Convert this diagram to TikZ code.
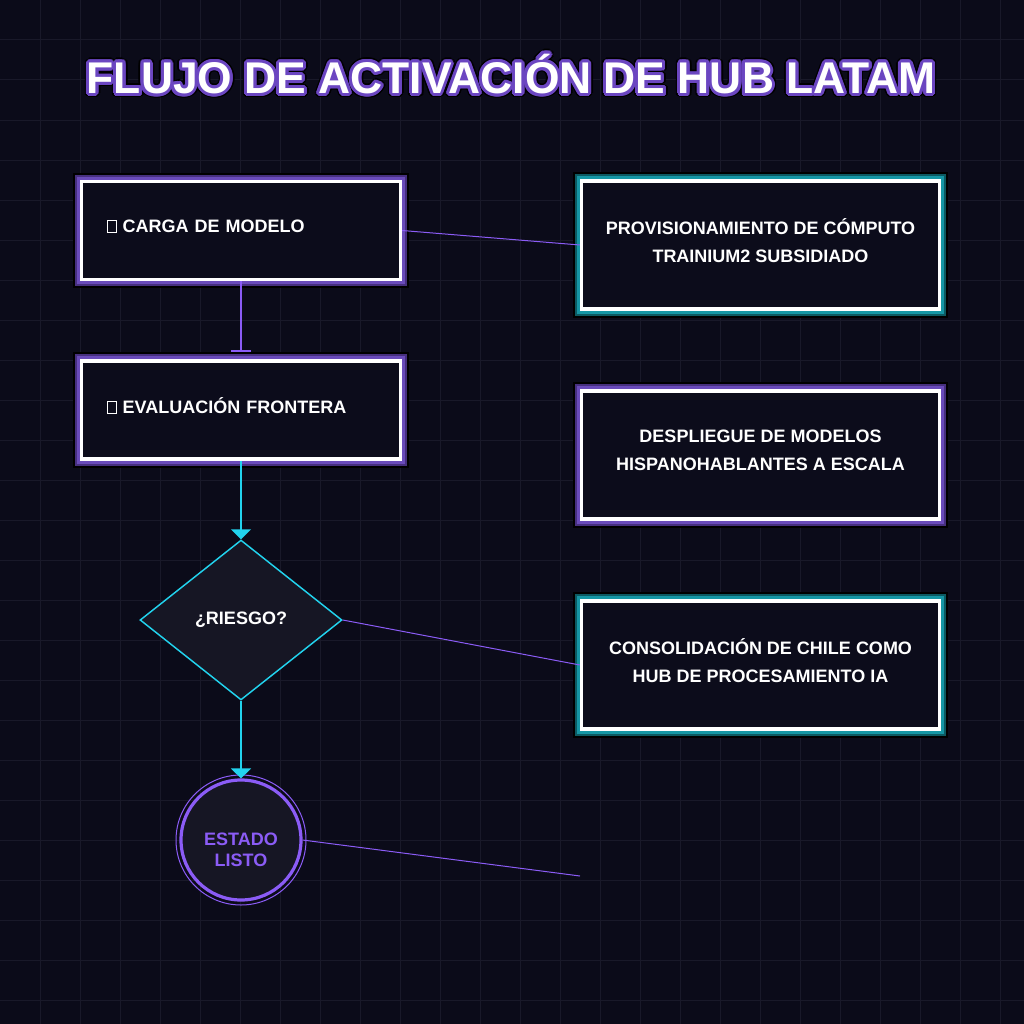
\documentclass[tikz,border=0pt]{standalone}
\usepackage{fontspec}
\setmainfont{Liberation Sans}
\usetikzlibrary{arrows.meta,shapes.geometric,positioning}

\definecolor{hubBg}{HTML}{0B0B19}
\definecolor{hubGrid}{HTML}{191929}
\definecolor{hubFill}{HTML}{0C0C1B}
\definecolor{hubShape}{HTML}{161624}
\definecolor{hubViolet}{HTML}{8B5CF6}
\definecolor{hubVioletMid}{HTML}{6A4BBA}
\definecolor{hubVioletDark}{HTML}{47307F}
\definecolor{hubTealMid}{HTML}{1596A4}
\definecolor{hubTealDark}{HTML}{0C5A62}
\definecolor{hubCyan}{HTML}{22D3EE}
\definecolor{hubGlow}{HTML}{6B46C1}

% caja vacia del icono que falta
\newcommand{\tofubox}{{\setlength{\fboxsep}{0pt}\setlength{\fboxrule}{0.6pt}\fbox{\rule{0pt}{8.5pt}\hspace{6pt}}}}
% baja un poco la linea base del bloque
\newcommand{\lift}{\rule[-7pt]{0pt}{0pt}}

\tikzset{
  hubBox/.style={rectangle, draw=white, line width=2.5pt, fill=hubFill, text=white,
    font=\bfseries\fontsize{13.5}{21}\selectfont, inner sep=0pt,
    preaction={draw=black, line width=13.4pt},
    preaction={draw=#1Dark, line width=10.4pt},
    preaction={draw=#1Mid, line width=7.4pt}},
  hubStep/.style={hubBox=hubViolet, minimum width=239.25pt, minimum height=73.5pt,
    text width=201pt, align=left},
  hubGoal/.style={hubBox=#1, minimum width=268.5pt, minimum height=96pt, align=center},
  hubCheck/.style={diamond, draw=hubCyan, line width=1.1pt, fill=hubShape, text=white,
    font=\bfseries\fontsize{13.5}{16}\selectfont, minimum width=151.5pt, minimum height=120pt, inner sep=0pt},
  hubReady/.style={circle, draw=hubViolet, line width=2.4pt, fill=hubShape,
    minimum size=90pt, inner sep=0pt},
  hubReadyText/.style={text=hubViolet, font=\bfseries\fontsize{13.5}{15.75}\selectfont, align=center},
  hubTitle/.style={font=\bfseries\fontsize{33.3}{36}\selectfont, inner sep=0pt},
  hubFlow/.style={line width=1.5pt},
  hubLink/.style={hubViolet, line width=0.75pt},
  hubGridLine/.style={hubGrid, line width=0.75pt},
}

\begin{document}
\begin{tikzpicture}[x=0.75pt, y=-0.75pt]
\useasboundingbox (0,0) rectangle (1024,1024);
\fill[hubBg] (0,0) rectangle (1024,1024);
% rejilla
\foreach \g in {40,80,...,1000} {
  \draw[hubGridLine] (\g,0) -- (\g,1024);
  \draw[hubGridLine] (0,\g) -- (1024,\g);
}
% titulo con contorno
\foreach \i in {1,...,16} {
  \node[hubTitle, text=black] (tituloBorde\i) at ([shift={(\i*22.5:4.5)}]511,74) {FLUJO DE ACTIVACIÓN DE HUB LATAM};
}
\foreach \i in {1,...,16} {
  \node[hubTitle, text=hubGlow] (tituloBrillo\i) at ([shift={(\i*22.5:3)}]511,74) {FLUJO DE ACTIVACIÓN DE HUB LATAM};
}
\node[hubTitle, text=white] (titulo) at (511,74) {FLUJO DE ACTIVACIÓN DE HUB LATAM};

% columna izquierda
\node[hubStep] (carga) at (241,230.5) {\tofubox\ CARGA DE MODELO\lift};
\node[hubStep] (evaluacion) at (241,410) {\tofubox\ EVALUACIÓN FRONTERA\lift};
\node[hubCheck] (riesgo) at (241,620) {¿RIESGO?};
\node[hubReady] (listo) at (241,840) {};
\draw[hubViolet, line width=0.75pt] (listo) circle[radius=48.75pt];
\node[hubReadyText] (listoTxt) at ([yshift=-7.5pt]listo.center) {ESTADO\\LISTO};

% columna derecha
\node[hubGoal=hubTeal] (provision) at (760.5,245) {PROVISIONAMIENTO DE CÓMPUTO\\TRAINIUM2 SUBSIDIADO\lift};
\node[hubGoal=hubViolet] (despliegue) at (760.5,455) {DESPLIEGUE DE MODELOS\\HISPANOHABLANTES A ESCALA\lift};
\node[hubGoal=hubTeal] (consolida) at (760.5,665) {CONSOLIDACIÓN DE CHILE COMO\\HUB DE PROCESAMIENTO IA\lift};
\coordinate (finLibre) at (580,876);

% flujo
\draw[hubFlow, hubViolet, -{Bar[width=15pt,line width=1.5pt]}, shorten >=5.5pt] (carga) -- (evaluacion);
\draw[hubFlow, hubCyan, -{Triangle[width=15pt,length=7.5pt]}] (evaluacion) -- (riesgo);
\draw[hubFlow, hubCyan, -{Triangle[width=15pt,length=7.5pt]}] (riesgo) -- (listo);

% enlaces a resultados
\draw[hubLink] (carga.east) -- (provision.west);
\draw[hubLink] (riesgo.east) -- (consolida.west);
\draw[hubLink] (listo.east) -- (finLibre);
\end{tikzpicture}
\end{document}
